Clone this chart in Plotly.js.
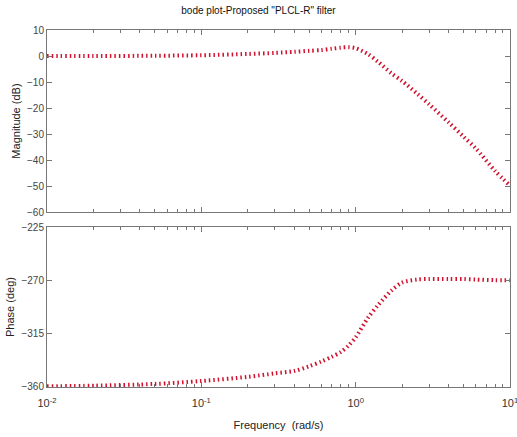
<!DOCTYPE html>
<html><head><meta charset="utf-8">
<script src="https://cdn.plot.ly/plotly-3.0.1.min.js"></script>
<style>html,body{margin:0;padding:0;background:#fff}#g{width:517px;height:437px}</style>
</head><body><div id="g"></div>
<script>
const freq = [0.01, 0.02, 0.05, 0.1, 0.2, 0.3, 0.4, 0.5, 0.6, 0.7, 0.8, 0.9, 1.0, 1.2, 1.4, 1.7, 2.0, 2.5, 3.0, 4.0, 5.0, 6.0, 8.0, 10];
const magnitudeDb = [0, 0, 0.1, 0.3, 0.8, 1.2, 1.6, 2.0, 2.3, 2.8, 3.2, 3.4, 3.0, 0.8, -2.3, -6.6, -9.6, -14.5, -18.6, -25.5, -31, -35.5, -44.2, -49.8];
const phaseDeg = [-360, -359.5, -358, -355.5, -352, -349, -347, -343, -339, -335, -331, -325.5, -318.5, -302, -291, -279, -272, -269.5, -269, -269, -269, -269.5, -270, -270];
const xTickVals = [0.01, 0.1, 1, 10];
const xTickText = ['10<sup>-2</sup>', '10<sup>-1</sup>', '10<sup>0</sup>', '10<sup>1</sup>'];
const magTicks = [-60, -50, -40, -30, -20, -10, 0, 10];
const phaseTicks = [-360, -315, -270, -225];

const minorVals = [];
[0.01, 0.1, 1].forEach(d => { for (let k = 2; k <= 9; k++) minorVals.push(d * k); });

const lineStyle = {color: '#d0122e', width: 4, dash: '1.5px,3px', shape: 'spline', smoothing: 0.8};
const axCol = '#777';
const font = {family: 'Liberation Sans, Arial, sans-serif', size: 11, color: '#222'};

const traces = [
  {x: freq, y: magnitudeDb, xaxis: 'x2', yaxis: 'y2', mode: 'lines', line: lineStyle, hoverinfo: 'none', cliponaxis: false},
  {x: freq, y: phaseDeg, xaxis: 'x', yaxis: 'y', mode: 'lines', line: lineStyle, hoverinfo: 'none', cliponaxis: false}
];

const xBase = {
  type: 'log', range: [-2, 1], showgrid: false, zeroline: false,
  showline: true, linecolor: axCol, linewidth: 1, mirror: 'ticks',
  ticks: 'inside', ticklen: 5, tickcolor: axCol,
  tickmode: 'array', tickvals: xTickVals, ticktext: xTickText,
  ticklabeloverflow: 'allow',
  minor: {tickmode: 'array', tickvals: minorVals, ticks: 'inside', ticklen: 3, tickcolor: axCol}
};

const layout = {
  width: 517, height: 437,
  margin: {l: 47, r: 7, t: 30, b: 50},
  paper_bgcolor: '#fff', plot_bgcolor: '#fff',
  showlegend: false, font: font,
  title: {text: 'bode plot-Proposed "PLCL-R" filter', x: 0.5, xanchor: 'center', y: 0.975, yanchor: 'middle',
          font: {family: 'Liberation Sans, Arial, sans-serif', size: 10, color: '#111'}},
  xaxis: Object.assign({}, xBase, {anchor: 'y', ticklabelstandoff: 6,
          title: {text: 'Frequency  (rad/s)', standoff: 13, font: {size: 11, color: '#222'}}, tickfont: {size: 11, color: '#333'}}),
  xaxis2: Object.assign({}, xBase, {anchor: 'y2', matches: 'x', showticklabels: false}),
  yaxis: {domain: [0, 0.448], range: [-360.6, -225], tickmode: 'array', tickvals: phaseTicks,
          showgrid: false, zeroline: false, showline: true, linecolor: axCol, mirror: 'ticks',
          ticks: 'inside', ticklen: 5, tickcolor: axCol, tickfont: {size: 10, color: '#444'}, ticklabeloverflow: 'allow',
          title: {text: 'Phase (deg)', standoff: 4, font: {size: 11, color: '#222'}}},
  yaxis2: {domain: [0.49, 1], range: [-60, 10], tickmode: 'array', tickvals: magTicks,
          showgrid: false, zeroline: false, showline: true, linecolor: axCol, mirror: 'ticks',
          ticks: 'inside', ticklen: 5, tickcolor: axCol, tickfont: {size: 10, color: '#444'}, ticklabeloverflow: 'allow',
          title: {text: 'Magnitude (dB)', standoff: 4, font: {size: 11, color: '#222'}}}
};

Plotly.newPlot('g', traces, layout, {staticPlot: true, displayModeBar: false});
</script></body></html>
